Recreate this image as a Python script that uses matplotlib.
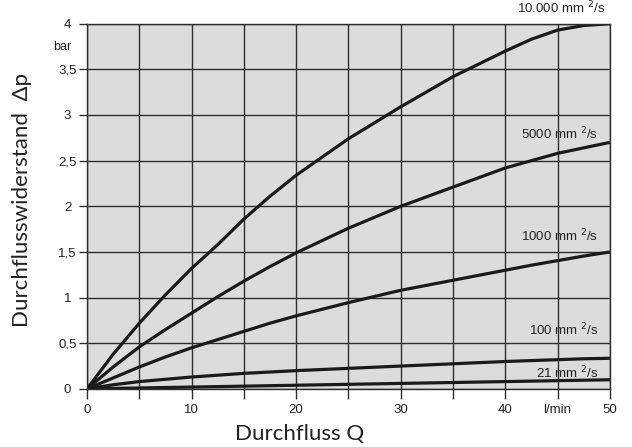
import numpy as np
import matplotlib.pyplot as plt

plt.rcParams['font.family'] = ['Liberation Sans', 'DejaVu Sans']

# Durchfluss Q in l/min
q = [0, 2.5, 5, 7.5, 10, 12.5, 15, 17.5, 20, 25, 30, 35, 40, 42.5, 45, 47.5, 50]

# Durchflusswiderstand in bar je Viskosität
dp_10000 = [0, 0.38, 0.72, 1.03, 1.32, 1.58, 1.86, 2.11, 2.34, 2.74, 3.09, 3.42,
            3.70, 3.83, 3.93, 3.98, 4.00]
dp_5000 = [0, 0.24, 0.46, 0.65, 0.83, 1.01, 1.18, 1.34, 1.49, 1.76, 2.00, 2.21,
           2.42, 2.50, 2.58, 2.64, 2.70]
dp_1000 = [0, 0.12, 0.24, 0.35, 0.45, 0.54, 0.63, 0.72, 0.80, 0.945, 1.08, 1.19,
           1.30, 1.355, 1.405, 1.455, 1.50]
dp_100 = [0, 0.045, 0.08, 0.105, 0.13, 0.15, 0.17, 0.185, 0.20, 0.225, 0.25, 0.275,
          0.30, 0.31, 0.32, 0.33, 0.335]
dp_21 = [0, 0.005, 0.01, 0.015, 0.02, 0.025, 0.03, 0.035, 0.04, 0.05, 0.06, 0.07,
         0.08, 0.085, 0.09, 0.095, 0.10]

labels = ['10.000 mm $^2$/s', '5000 mm $^2$/s', '1000 mm $^2$/s', '100 mm $^2$/s', '21 mm $^2$/s']
label_x = [49.5, 48.9, 48.9, 48.9, 48.9]
label_y = [4.17, 2.79, 1.68, 0.64, 0.17]

fig = plt.figure(figsize=(6.32, 4.47), dpi=100)
ax = fig.add_axes([0.1377, 0.13, 0.8273, 0.817])
ax.set_facecolor('#dcdcdd')

for ys in [dp_10000, dp_5000, dp_1000, dp_100, dp_21]:
    ax.plot(q, ys, color='#1a1a1a', lw=2.3, solid_capstyle='butt',
            solid_joinstyle='round')

for txt, lx, ly in zip(labels, label_x, label_y):
    ax.text(lx, ly, txt, ha='right', va='center', fontsize=9.5,
            color='#222222', clip_on=False)

ax.set_xlim(0, 50)
ax.set_ylim(0, 4)
ax.set_xticks(np.arange(0, 51, 5))
ax.set_xticklabels(['0', '', '10', '', '20', '', '30', '', '40', 'l/min', '50'])
ax.set_yticks(np.arange(0, 4.01, 0.5))
ax.set_yticklabels(['0', '0,5', '1', '1,5', '2', '2,5', '3', '3,5', '4'], ha='center')
ax.text(-2.4, 3.75, 'bar', ha='center', va='center', fontsize=9, color='#222222')

ax.grid(True, color='#2e2e2e', lw=1.0)
ax.tick_params(axis='both', width=1.0, color='#2e2e2e',
               labelsize=9.5, labelcolor='#222222', direction='out')
ax.tick_params(axis='y', length=6, pad=8)
ax.tick_params(axis='x', length=7, pad=4)
for s in ax.spines.values():
    s.set_color('#2e2e2e')
    s.set_linewidth(1.0)

ax.set_xlabel('Durchfluss Q', fontsize=16, family=['Lato', 'DejaVu Sans'],
              color='#222222')
ax.xaxis.set_label_coords(0.407, -0.095)
fig.text(22 / 632, 1 - 200 / 447, 'Durchflusswiderstand  Δp', rotation=90,
         ha='center', va='center', fontsize=16,
         family=['Lato', 'DejaVu Sans'], color='#222222')

fig.savefig('out.png', dpi=100)
